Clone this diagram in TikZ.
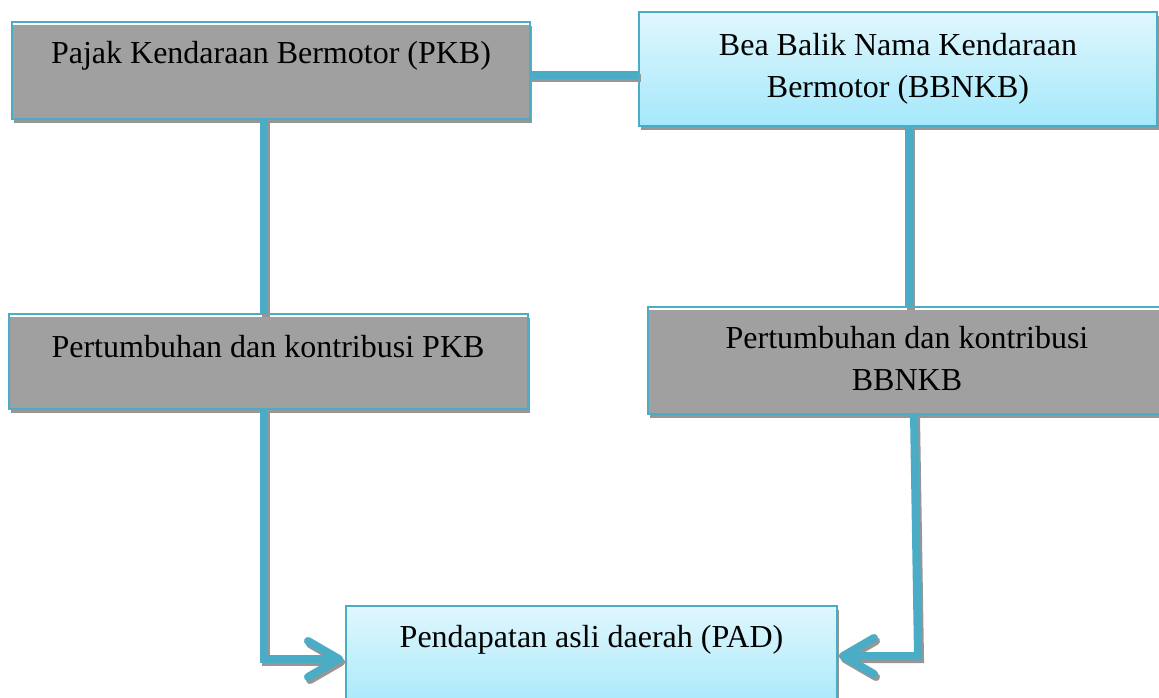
\documentclass[tikz,border=0pt]{standalone}
\usepackage{fontspec}
\setmainfont{Liberation Serif}
\usetikzlibrary{arrows.meta,shadows,calc}
\definecolor{edgeblue}{RGB}{75,172,198}
\definecolor{boxgray}{RGB}{160,160,160}
\definecolor{shadowgray}{RGB}{150,150,150}
\definecolor{lbtop}{RGB}{224,247,253}
\definecolor{lbbot}{RGB}{165,232,251}
\begin{document}
\begin{tikzpicture}[x=1pt,y=-1pt,
  boxbase/.style={draw=edgeblue, line width=2pt, inner sep=0pt, outer sep=0pt, rectangle,
     general shadow={fill=shadowgray, shadow xshift=2pt, shadow yshift=-4pt}},
  graybox/.style={boxbase, fill=boxgray,
     path picture={\fill[white] (path picture bounding box.north west) rectangle ([yshift=-3pt]path picture bounding box.north east);}},
  bluebox/.style={boxbase, top color=lbtop, bottom color=lbbot},
  lbl/.style={anchor=base, inner sep=0pt, font=\fontsize{32}{40}\selectfont},
  conn/.style={draw=edgeblue, line width=8pt,
     preaction={draw=shadowgray, line width=8pt, transform canvas={xshift=2pt,yshift=-3pt}}},
  tipped/.style={-{Straight Barb[length=31pt,width=36pt,round]}}
]
\useasboundingbox (0,0) rectangle (1159,697);
\clip (0,0) rectangle (1159,697);

% coordinates for connector routes
\coordinate (hy) at (0,75);
\coordinate (lx) at (264,0);
\coordinate (rx) at (909,0);
\coordinate (rx2) at (914,0);
\coordinate (rb) at (918,656);

\node[graybox, minimum width=518pt, minimum height=97pt] (pkb) at (271,70.5) {};
\node[bluebox, minimum width=518pt, minimum height=114pt] (bbnkb) at (898,69) {};
\node[graybox, minimum width=519pt, minimum height=95pt] (pkbg) at (268.5,361.5) {};
\node[graybox, minimum width=518pt, minimum height=107pt] (bbnkbg) at (907,360.5) {};
\node[bluebox, minimum width=491pt, minimum height=106pt] (pad) at (591.5,659) {};

\draw[conn] (pkb.east |- hy) -- (bbnkb.west |- hy);
\draw[conn] (pkb.south -| lx) -- (pkbg.north -| lx);
\draw[conn] (bbnkb.south -| rx) -- (bbnkbg.north -| rx);
\draw[conn,tipped] (pkbg.south -| lx) |- ([xshift=-3pt]pad.west);
\draw[conn,tipped] (bbnkbg.south -| rx2) -- (rb) -- ([xshift=2pt]pad.east |- rb);

\node[lbl] (pkbt) at (271,63) {Pajak Kendaraan Bermotor (PKB)};
\node[lbl] (bbnkbta) at (898,55) {Bea Balik Nama Kendaraan};
\node[lbl] (bbnkbtb) at (898,97) {Bermotor (BBNKB)};
\node[lbl] (pkbgt) at (268,357) {Pertumbuhan dan kontribusi PKB};
\node[lbl] (bbnkbgta) at (907,348) {Pertumbuhan dan kontribusi};
\node[lbl] (bbnkbgtb) at (907,390) {BBNKB};
\node[lbl] (padt) at (591.5,647) {Pendapatan asli daerah (PAD)};
\end{tikzpicture}
\end{document}
